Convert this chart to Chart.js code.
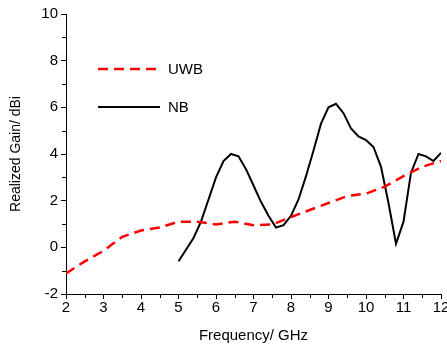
<!DOCTYPE html>
<html>
<head>
<meta charset="utf-8">
<script src="https://cdn.jsdelivr.net/npm/chart.js@4.4.0/dist/chart.umd.min.js"></script>
<style>
    html, body { margin: 0; padding: 0; background: #fff; }
</style>
</head>
<body>
<canvas id="myChart" width="447" height="345"></canvas>
<script>
// data
const freqUWB = [2, 2.5, 3, 3.5, 4, 4.5, 5, 5.5, 6, 6.5, 7, 7.5, 8, 8.5, 9, 9.5, 10, 10.5, 11, 11.5, 12];
const gainUWB = [-1.12, -0.6, -0.15, 0.45, 0.72, 0.85, 1.1, 1.1, 0.98, 1.1, 0.95, 0.98, 1.3, 1.6, 1.9, 2.2, 2.3, 2.6, 3.05, 3.45, 3.7];

const freqNB = [5, 5.2, 5.4, 5.6, 5.8, 6, 6.2, 6.4, 6.6, 6.8, 7, 7.2, 7.4, 7.6, 7.8, 8, 8.2, 8.4, 8.6, 8.8,
    9, 9.2, 9.4, 9.6, 9.8, 10, 10.2, 10.4, 10.6, 10.8, 11, 11.2, 11.4, 11.6, 11.8, 12];
const gainNB = [-0.6, -0.1, 0.4, 1.1, 2.05, 3.0, 3.7, 4.0, 3.9, 3.35, 2.65, 1.95, 1.35, 0.85, 0.95, 1.35, 2.05, 3.05, 4.15, 5.3,
    6.0, 6.15, 5.75, 5.1, 4.75, 4.6, 4.3, 3.45, 1.9, 0.15, 1.1, 3.2, 4.0, 3.9, 3.7, 4.05];

const xRange = [2, 12];
const yRange = [-2, 10];
const xTitle = 'Frequency/ GHz';
const yTitle = 'Realized Gain/ dBi';

const FONT = 'Liberation Sans, Arial, Helvetica, sans-serif';

function toPoints(xs, ys) {
    return xs.map((x, i) => ({ x: x, y: ys[i] }));
}

// small ticks half way between the labelled ones
const minorTicks = {
    id: 'minorTicks',
    afterDraw(chart) {
        const ctx = chart.ctx;
        const { x, y } = chart.scales;
        ctx.save();
        ctx.strokeStyle = '#000';
        ctx.lineWidth = 1;
        ctx.beginPath();
        for (let i = 0; i < x.ticks.length - 1; i++) {
            const v = (x.ticks[i].value + x.ticks[i + 1].value) / 2;
            const px = Math.round(x.getPixelForValue(v)) + 0.5;
            ctx.moveTo(px, x.top);
            ctx.lineTo(px, x.top + 4);
        }
        for (let i = 0; i < y.ticks.length - 1; i++) {
            const v = (y.ticks[i].value + y.ticks[i + 1].value) / 2;
            const py = Math.round(y.getPixelForValue(v)) + 0.5;
            ctx.moveTo(y.right, py);
            ctx.lineTo(y.right - 4, py);
        }
        ctx.stroke();
        ctx.restore();
    }
};

// legend drawn inside the plot, top left
const insideLegend = {
    id: 'insideLegend',
    afterDraw(chart) {
        const ctx = chart.ctx;
        const area = chart.chartArea;
        const rows = [55, 93];
        ctx.save();
        ctx.font = '15px ' + FONT;
        ctx.textBaseline = 'middle';
        ctx.fillStyle = '#000';
        chart.data.datasets.forEach((ds, i) => {
            const yy = area.top + rows[i];
            ctx.strokeStyle = ds.borderColor;
            ctx.lineWidth = ds.borderWidth;
            ctx.setLineDash(ds.borderDash || []);
            ctx.beginPath();
            ctx.moveTo(area.left + 32, yy);
            ctx.lineTo(area.left + 94, yy);
            ctx.stroke();
            ctx.setLineDash([]);
            ctx.fillText(ds.label, area.left + 102, yy + 1);
        });
        ctx.restore();
    }
};

const ctx = document.getElementById('myChart').getContext('2d');
const myChart = new Chart(ctx, {
    type: 'scatter',
    data: {
        datasets: [{
            label: 'UWB',
            data: toPoints(freqUWB, gainUWB),
            showLine: true,
            borderColor: '#ff0000',
            borderWidth: 2.5,
            borderDash: [10, 6],
            pointRadius: 0,
            tension: 0
        }, {
            label: 'NB',
            data: toPoints(freqNB, gainNB),
            showLine: true,
            borderColor: '#000000',
            borderWidth: 2,
            pointRadius: 0,
            tension: 0
        }]
    },
    options: {
        responsive: false,
        animation: false,
        events: [],
        layout: { padding: { top: 14, right: 6, left: 0, bottom: 0 } },
        plugins: {
            legend: { display: false },
            tooltip: { enabled: false }
        },
        scales: {
            x: {
                type: 'linear',
                min: xRange[0],
                max: xRange[1],
                ticks: {
                    stepSize: 1,
                    color: '#000',
                    padding: 0,
                    maxRotation: 0,
                    font: { family: FONT, size: 15 }
                },
                grid: {
                    drawOnChartArea: false,
                    drawTicks: true,
                    tickLength: 5,
                    tickColor: '#000'
                },
                border: { display: true, color: '#000', width: 1 },
                title: {
                    display: true,
                    text: xTitle,
                    color: '#000',
                    font: { family: FONT, size: 15 },
                    padding: { top: 6, bottom: 0 }
                },
                afterFit: function (s) {
                    s.height = 51;
                    s.paddingLeft = 0;
                    s.paddingRight = 0;
                }
            },
            y: {
                type: 'linear',
                min: yRange[0],
                max: yRange[1],
                ticks: {
                    stepSize: 2,
                    color: '#000',
                    padding: 3,
                    font: { family: FONT, size: 15 }
                },
                grid: {
                    drawOnChartArea: false,
                    drawTicks: true,
                    tickLength: 5,
                    tickColor: '#000'
                },
                border: { display: true, color: '#000', width: 1 },
                title: {
                    display: true,
                    text: yTitle,
                    color: '#000',
                    font: { family: FONT, size: 14 },
                    padding: { top: 8, bottom: 0 }
                },
                afterFit: function (s) {
                    s.width = 66;
                    s.paddingTop = 0;
                    s.paddingBottom = 0;
                }
            }
        }
    },
    plugins: [minorTicks, insideLegend]
});
</script>
</body>
</html>
